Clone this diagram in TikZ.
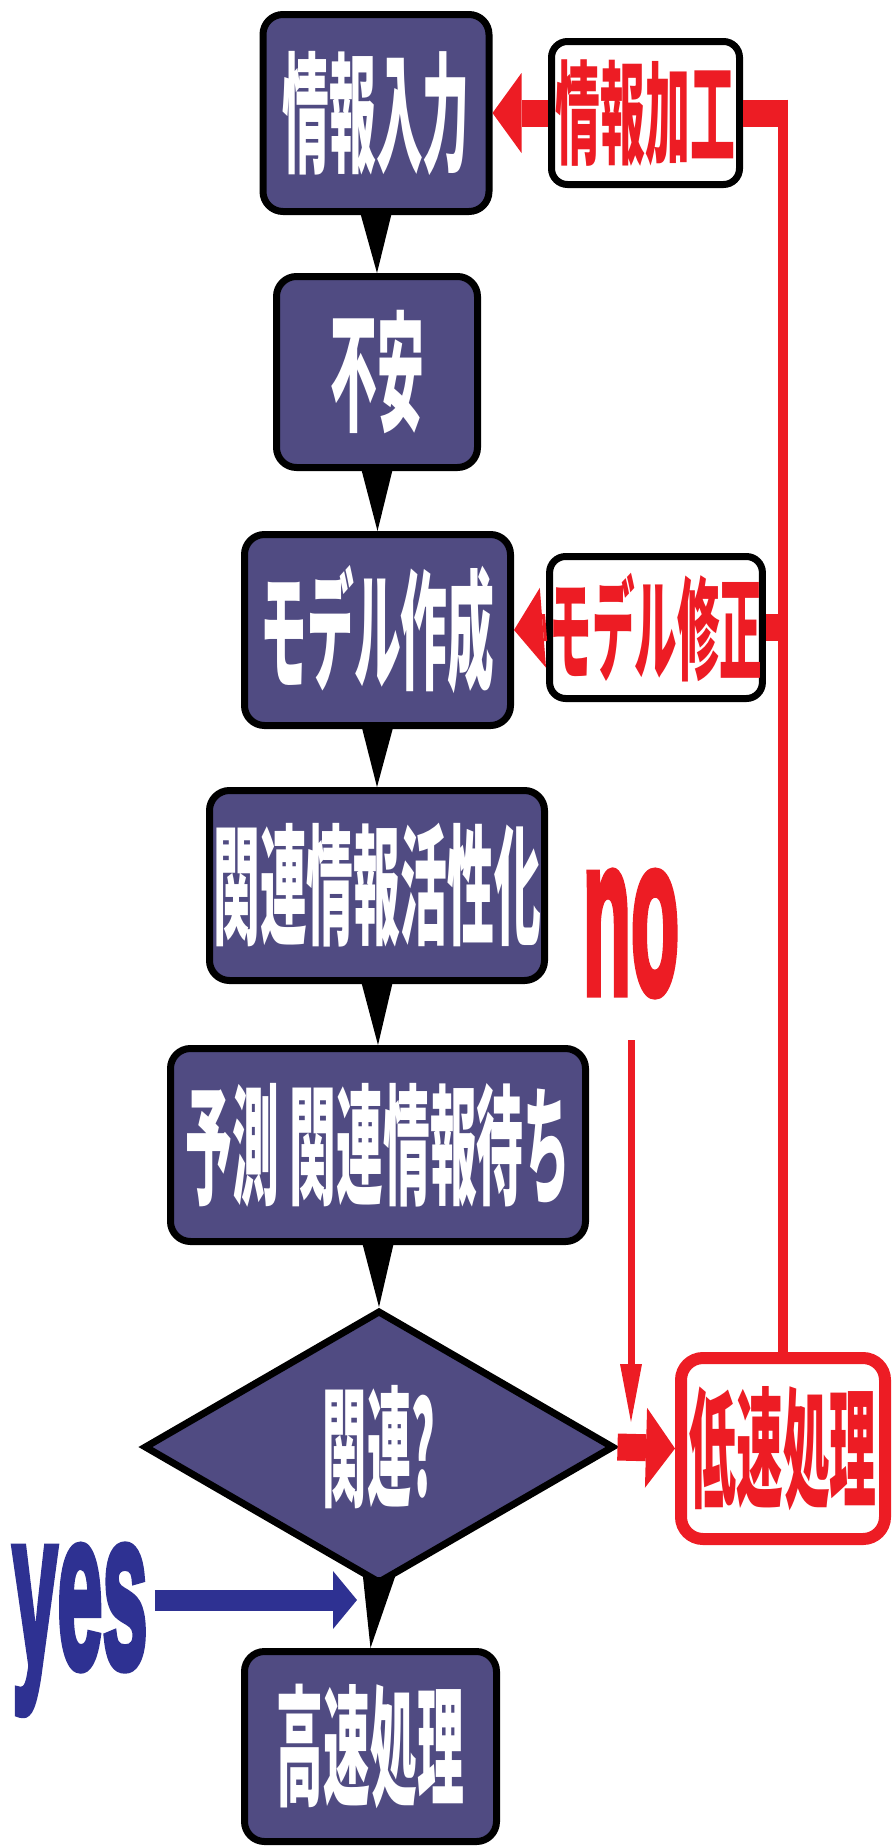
\documentclass[tikz,border=0pt]{standalone}
\usepackage{fontspec}
\usepackage{graphicx}
\usetikzlibrary{arrows.meta,shapes.geometric}
\setmainfont{Liberation Sans}
\newfontfamily\jpfont{Noto Sans CJK JP}
\newfontfamily\heavyfont{Liberation Sans}[BoldFeatures={FakeBold=4}]
\definecolor{boxblue}{RGB}{80,75,130}
\definecolor{alarmred}{RGB}{237,28,36}
\definecolor{yesblue}{RGB}{46,49,146}
\newcommand{\narrow}[2]{\scalebox{#1}[1]{#2}}
\tikzset{
  procbox/.style={rectangle, rounded corners=20pt, draw=black, line width=7pt,
    fill=boxblue, text=white, inner sep=0pt,
    font=\jpfont\bfseries\fontsize{130}{130}\selectfont},
  fixbox/.style={rectangle, rounded corners=16pt, draw=black, line width=7pt,
    fill=white, text=alarmred, inner sep=0pt,
    font=\jpfont\bfseries\fontsize{112}{112}\selectfont},
  slowbox/.style={rectangle, rounded corners=22pt, draw=alarmred, line width=12pt,
    fill=white, text=alarmred, inner sep=0pt,
    font=\jpfont\bfseries\fontsize{130}{130}\selectfont},
  decision/.style={diamond, aspect=1.72, draw=black, line width=7pt,
    fill=boxblue, text=white, inner sep=0pt,
    font=\jpfont\bfseries\fontsize{130}{130}\selectfont},
  answer/.style={inner sep=0pt, font=\heavyfont\bfseries\fontsize{225}{225}\selectfont},
  wedge/.style={fill=black},
  redarrow/.style={draw=alarmred, line width=27pt,
    -{Triangle[width=80pt,length=29pt,line width=0pt]}},
  redstub/.style={draw=alarmred, line width=27pt},
  redline/.style={draw=alarmred, line width=10pt},
  noarrow/.style={draw=alarmred, line width=7pt,
    -{Triangle[width=22pt,length=58pt,line width=0pt]}},
  yesarrow/.style={draw=yesblue, line width=21pt,
    -{Triangle[width=58pt,length=24pt,line width=0pt]}}
}
\begin{document}
\begin{tikzpicture}[x=1pt,y=-1pt]
\useasboundingbox (0,0) rectangle (894,1847);

\node[procbox, minimum width=226pt, minimum height=197pt] (in1) at (376,113) {\narrow{0.36}{情報入力}};
\node[procbox, minimum width=201pt, minimum height=191pt] (fuan) at (377,372) {\narrow{0.36}{不安}};
\node[procbox, minimum width=266pt, minimum height=191pt] (model) at (377.5,630) {\narrow{0.36}{モデル作成}};
\node[procbox, minimum width=335pt, minimum height=190pt] (kanren) at (377,885.5) {\narrow{0.36}{関連情報活性化}};
\node[procbox, minimum width=415pt, minimum height=193pt] (yosoku) at (378,1145) {\narrow{0.36}{予測\ 関連情報待ち}};
\node[decision, minimum width=470pt, minimum height=273pt] (check) at (379,1447) {\narrow{0.34}{関連?}};
\node[procbox, minimum width=252pt, minimum height=190pt] (fast) at (370.5,1746.5) {\narrow{0.36}{高速処理}};

\node[fixbox, minimum width=188pt, minimum height=143pt] (kakou) at (645.5,113) {\narrow{0.4}{情報加工}};
\node[fixbox, minimum width=205pt, minimum height=142pt] (shusei) at (656,627.5) {\narrow{0.38}{モデル修正}};
\node[slowbox, minimum width=204pt, minimum height=181pt] (slow) at (783,1448.5) {\narrow{0.36}{低速処理}};

\node[answer, text=alarmred, anchor=base] (no) at (631,993) {\narrow{0.35}{no}};
\node[answer, text=yesblue, anchor=base] (yes) at (80,1667) {\narrow{0.36}{yes}};

\fill[wedge] ([xshift=-16pt,yshift=3pt]in1.south) -- ([xshift=16pt,yshift=3pt]in1.south) -- (fuan.north) -- cycle;
\fill[wedge] ([xshift=-16pt,yshift=3pt]fuan.south) -- ([xshift=16pt,yshift=3pt]fuan.south) -- (model.north) -- cycle;
\fill[wedge] ([xshift=-16pt,yshift=3pt]model.south) -- ([xshift=16pt,yshift=3pt]model.south) -- (kanren.north) -- cycle;
\fill[wedge] ([xshift=-16pt,yshift=3pt]kanren.south) -- ([xshift=16pt,yshift=3pt]kanren.south) -- (yosoku.north) -- cycle;
\fill[wedge] ([xshift=-16pt,yshift=3pt]yosoku.south) -- ([xshift=16pt,yshift=3pt]yosoku.south) -- (check.north) -- cycle;
\fill[wedge] ([xshift=-16pt,yshift=10pt]check.south) -- ([xshift=16pt,yshift=10pt]check.south) -- (fast.north) -- cycle;

\draw[redarrow] (kakou.west) -- (in1.east);
\draw[redarrow] (shusei.west) -- (model.east);
\draw[redarrow] (check.east) -- (slow.west);

\coordinate (turn) at (kakou.east -| slow.north);
\draw[redstub] (kakou.east) -- ([xshift=5pt]turn);
\draw[redline] ([yshift=13.5pt]turn) -- (slow.north);
\draw[redstub] (shusei.east) -- ([xshift=5pt]shusei.east -| slow.north);

\coordinate (noend) at (631,1422);
\draw[noarrow] ([yshift=-45pt]no.south) -- (noend);
\coordinate (yesend) at (357,1600);
\draw[yesarrow] ([xshift=7pt]yes.east |- yesend) -- (yesend);
\end{tikzpicture}
\end{document}
